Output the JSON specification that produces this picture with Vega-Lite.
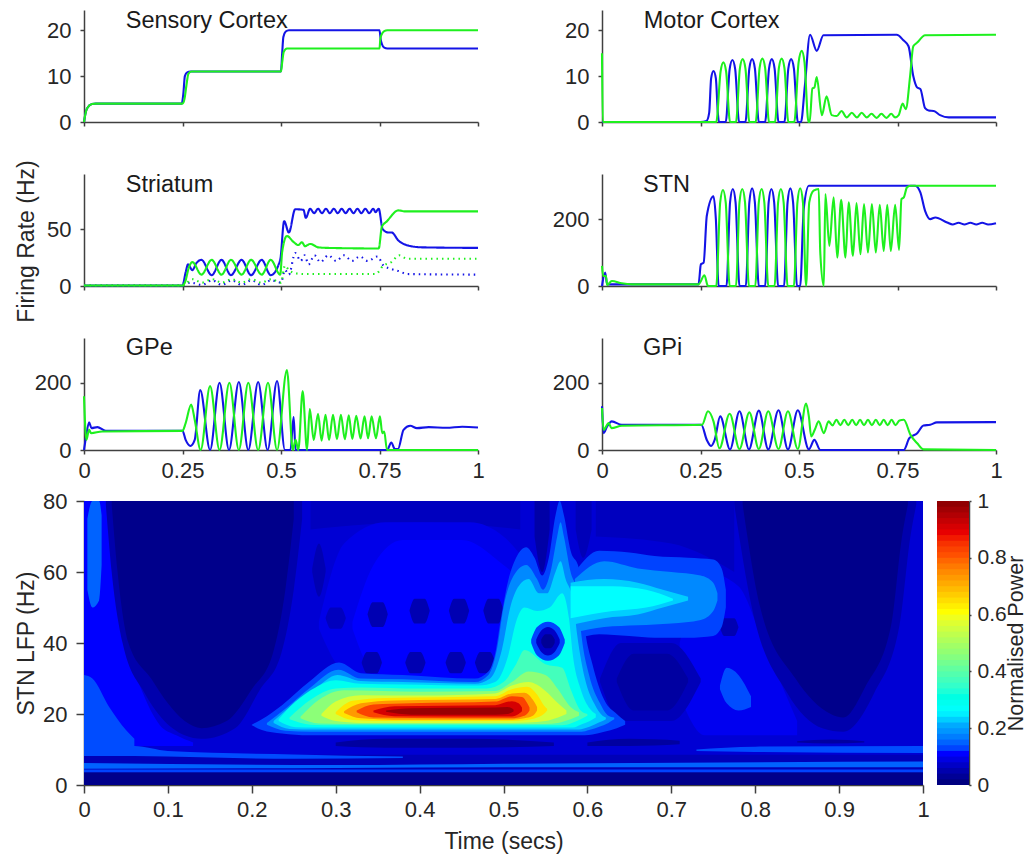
{"$schema":"https://vega.github.io/schema/vega-lite/v6.json","padding":{"left":15,"top":9,"right":5,"bottom":2},"background":"white","spacing":9,"resolve":{"scale":{"color":"independent","strokeDash":"independent"}},
"config":{"view":{"stroke":null},"font":"Liberation Sans","axis":{"grid":false,"domainColor":"#404040","domainWidth":1.5,"tickColor":"#404040","tickWidth":1.5,"tickSize":4,"labelColor":"#262626","titleColor":"#262626","labelFontSize":22,"titleFontSize":23,"labelFont":"Liberation Sans","titleFont":"Liberation Sans","titleFontWeight":"normal","labelPadding":9,"title":null,"labelFlush":false,"labelOverlap":false}},
"datasets":{
"sc":[{"s":"b","t":0,"v":0},{"s":"b","t":0.003,"v":1.5},{"s":"b","t":0.008,"v":3},{"s":"b","t":0.02,"v":3.9},{"s":"b","t":0.03,"v":4},{"s":"b","t":0.248,"v":4},{"s":"b","t":0.252,"v":6},{"s":"b","t":0.256,"v":10},{"s":"b","t":0.262,"v":10.8},{"s":"b","t":0.27,"v":11},{"s":"b","t":0.5,"v":11},{"s":"b","t":0.503,"v":15},{"s":"b","t":0.506,"v":18.5},{"s":"b","t":0.512,"v":19.7},{"s":"b","t":0.52,"v":20},{"s":"b","t":0.75,"v":20},{"s":"b","t":0.753,"v":18},{"s":"b","t":0.756,"v":17},{"s":"b","t":0.762,"v":16.2},{"s":"b","t":0.77,"v":16},{"s":"b","t":1,"v":16},
{"s":"g","t":0,"v":0},{"s":"g","t":0.003,"v":1.5},{"s":"g","t":0.008,"v":3},{"s":"g","t":0.02,"v":3.9},{"s":"g","t":0.03,"v":4},{"s":"g","t":0.25,"v":4},{"s":"g","t":0.255,"v":5},{"s":"g","t":0.26,"v":8},{"s":"g","t":0.265,"v":10.5},{"s":"g","t":0.272,"v":11},{"s":"g","t":0.5,"v":11},{"s":"g","t":0.503,"v":13},{"s":"g","t":0.507,"v":15.3},{"s":"g","t":0.515,"v":16},{"s":"g","t":0.75,"v":16},{"s":"g","t":0.752,"v":18},{"s":"g","t":0.755,"v":19},{"s":"g","t":0.762,"v":19.8},{"s":"g","t":0.77,"v":20},{"s":"g","t":1,"v":20}],
"mc":[{"s":"b","t":0,"v":0},{"s":"b","t":0.25,"v":0},{"s":"b","t":0.265,"v":0.2},{"s":"b","t":0.272,"v":2},{"s":"b","t":0.277,"v":9.5},{"s":"b","t":0.283,"v":11.1},{"s":"b","t":0.289,"v":9.5},{"s":"b","t":0.294,"v":2},{"s":"b","t":0.297,"v":0},{"s":"b","t":0.314,"v":0},{"s":"b","t":0.324,"v":11.5},{"s":"b","t":0.331,"v":13.5},{"s":"b","t":0.338,"v":11.5},{"s":"b","t":0.348,"v":0},{"s":"b","t":0.364,"v":0},{"s":"b","t":0.374,"v":11.7},{"s":"b","t":0.381,"v":13.7},{"s":"b","t":0.388,"v":11.7},{"s":"b","t":0.398,"v":0},{"s":"b","t":0.414,"v":0},{"s":"b","t":0.424,"v":11.7},{"s":"b","t":0.431,"v":13.7},{"s":"b","t":0.438,"v":11.7},{"s":"b","t":0.448,"v":0},{"s":"b","t":0.463,"v":0},{"s":"b","t":0.473,"v":11.7},{"s":"b","t":0.48,"v":13.7},{"s":"b","t":0.487,"v":11.7},{"s":"b","t":0.497,"v":0},{"s":"b","t":0.505,"v":0},{"s":"b","t":0.515,"v":8},{"s":"b","t":0.528,"v":19},{"s":"b","t":0.545,"v":15.5},{"s":"b","t":0.562,"v":18.9},{"s":"b","t":0.748,"v":19},{"s":"b","t":0.765,"v":17.8},{"s":"b","t":0.778,"v":16.5},{"s":"b","t":0.79,"v":10},{"s":"b","t":0.8,"v":7.5},{"s":"b","t":0.808,"v":7.2},{"s":"b","t":0.82,"v":3},{"s":"b","t":0.829,"v":2.5},{"s":"b","t":0.842,"v":2.4},{"s":"b","t":0.858,"v":1.5},{"s":"b","t":0.88,"v":1},{"s":"b","t":1,"v":1},
{"s":"g","t":0,"v":15},{"s":"g","t":0.002,"v":0},{"s":"g","t":0.29,"v":0},{"s":"g","t":0.301,"v":11},{"s":"g","t":0.308,"v":13},{"s":"g","t":0.315,"v":11},{"s":"g","t":0.325,"v":0},{"s":"g","t":0.34,"v":0},{"s":"g","t":0.35,"v":11.7},{"s":"g","t":0.357,"v":13.7},{"s":"g","t":0.364,"v":11.7},{"s":"g","t":0.374,"v":0},{"s":"g","t":0.39,"v":0},{"s":"g","t":0.4,"v":11.8},{"s":"g","t":0.407,"v":13.8},{"s":"g","t":0.414,"v":11.8},{"s":"g","t":0.424,"v":0},{"s":"g","t":0.439,"v":0},{"s":"g","t":0.449,"v":11.8},{"s":"g","t":0.456,"v":13.8},{"s":"g","t":0.463,"v":11.8},{"s":"g","t":0.473,"v":0},{"s":"g","t":0.488,"v":0},{"s":"g","t":0.499,"v":13},{"s":"g","t":0.507,"v":15.5},{"s":"g","t":0.514,"v":13},{"s":"g","t":0.524,"v":0},{"s":"g","t":0.527,"v":0},{"s":"g","t":0.534,"v":7.3},{"s":"g","t":0.539,"v":7.5},{"s":"g","t":0.545,"v":9.8},{"s":"g","t":0.558,"v":1.5},{"s":"g","t":0.57,"v":5.6},{"s":"g","t":0.583,"v":1.5},{"s":"g","t":0.596,"v":1.3},{"s":"g","t":0.608,"v":2.4},{"s":"g","t":0.621,"v":1},{"s":"g","t":0.634,"v":2},{"s":"g","t":0.647,"v":1},{"s":"g","t":0.659,"v":2},{"s":"g","t":0.672,"v":1},{"s":"g","t":0.684,"v":1.8},{"s":"g","t":0.697,"v":0.9},{"s":"g","t":0.709,"v":1.8},{"s":"g","t":0.722,"v":0.9},{"s":"g","t":0.734,"v":1.8},{"s":"g","t":0.744,"v":1},{"s":"g","t":0.753,"v":1.5},{"s":"g","t":0.763,"v":4},{"s":"g","t":0.771,"v":2.8},{"s":"g","t":0.782,"v":10},{"s":"g","t":0.79,"v":16.5},{"s":"g","t":0.8,"v":17.3},{"s":"g","t":0.82,"v":18.9},{"s":"g","t":1,"v":19}],
"st":[{"s":"bd","t":0,"v":0.5},{"s":"bd","t":0.25,"v":0.5},{"s":"bd","t":0.27,"v":3},{"s":"bd","t":0.3,"v":1},{"s":"bd","t":0.325,"v":5},{"s":"bd","t":0.35,"v":1},{"s":"bd","t":0.375,"v":5},{"s":"bd","t":0.4,"v":1},{"s":"bd","t":0.425,"v":5},{"s":"bd","t":0.45,"v":1},{"s":"bd","t":0.475,"v":5},{"s":"bd","t":0.5,"v":3},{"s":"bd","t":0.51,"v":14},{"s":"bd","t":0.52,"v":10},{"s":"bd","t":0.536,"v":29},{"s":"bd","t":0.55,"v":22},{"s":"bd","t":0.56,"v":27},{"s":"bd","t":0.57,"v":19},{"s":"bd","t":0.585,"v":27},{"s":"bd","t":0.6,"v":21},{"s":"bd","t":0.62,"v":27},{"s":"bd","t":0.64,"v":22},{"s":"bd","t":0.66,"v":27},{"s":"bd","t":0.68,"v":22},{"s":"bd","t":0.7,"v":26},{"s":"bd","t":0.72,"v":22},{"s":"bd","t":0.745,"v":26},{"s":"bd","t":0.76,"v":18},{"s":"bd","t":0.78,"v":15},{"s":"bd","t":0.8,"v":13},{"s":"bd","t":0.82,"v":10.5},{"s":"bd","t":1,"v":10},
{"s":"b","t":0,"v":0.5},{"s":"b","t":0.25,"v":0.5},{"s":"b","t":0.258,"v":12},{"s":"b","t":0.264,"v":19},{"s":"b","t":0.275,"v":14},{"s":"b","t":0.285,"v":20},{"s":"b","t":0.298,"v":23},{"s":"b","t":0.324,"v":9.5},{"s":"b","t":0.349,"v":23},{"s":"b","t":0.373,"v":9.5},{"s":"b","t":0.4,"v":23},{"s":"b","t":0.424,"v":9.5},{"s":"b","t":0.451,"v":23},{"s":"b","t":0.474,"v":9.5},{"s":"b","t":0.498,"v":23},{"s":"b","t":0.508,"v":57},{"s":"b","t":0.52,"v":47},{"s":"b","t":0.536,"v":67.5},{"s":"b","t":0.557,"v":67},{"s":"b","t":0.563,"v":60},{"s":"b","t":0.574,"v":68},{"s":"b","t":0.584,"v":64},{"s":"b","t":0.594,"v":68},{"s":"b","t":0.604,"v":64},{"s":"b","t":0.614,"v":68},{"s":"b","t":0.624,"v":64},{"s":"b","t":0.634,"v":68},{"s":"b","t":0.644,"v":64},{"s":"b","t":0.654,"v":68},{"s":"b","t":0.664,"v":64},{"s":"b","t":0.674,"v":68},{"s":"b","t":0.684,"v":64},{"s":"b","t":0.694,"v":68},{"s":"b","t":0.704,"v":64},{"s":"b","t":0.714,"v":68},{"s":"b","t":0.724,"v":64},{"s":"b","t":0.734,"v":68},{"s":"b","t":0.74,"v":65},{"s":"b","t":0.748,"v":68},{"s":"b","t":0.758,"v":50},{"s":"b","t":0.773,"v":47},{"s":"b","t":0.781,"v":47},{"s":"b","t":0.798,"v":40},{"s":"b","t":0.824,"v":35.5},{"s":"b","t":0.858,"v":34},{"s":"b","t":1,"v":33.5},
{"s":"gd","t":0,"v":0.5},{"s":"gd","t":0.25,"v":0.5},{"s":"gd","t":0.275,"v":6},{"s":"gd","t":0.3,"v":3},{"s":"gd","t":0.325,"v":6},{"s":"gd","t":0.35,"v":3},{"s":"gd","t":0.375,"v":6},{"s":"gd","t":0.4,"v":3},{"s":"gd","t":0.425,"v":6},{"s":"gd","t":0.45,"v":3},{"s":"gd","t":0.475,"v":6},{"s":"gd","t":0.5,"v":3},{"s":"gd","t":0.51,"v":18},{"s":"gd","t":0.52,"v":14},{"s":"gd","t":0.54,"v":11},{"s":"gd","t":0.56,"v":10.5},{"s":"gd","t":0.74,"v":10.5},{"s":"gd","t":0.76,"v":18},{"s":"gd","t":0.78,"v":21},{"s":"gd","t":0.8,"v":27},{"s":"gd","t":0.82,"v":24},{"s":"gd","t":1,"v":24},
{"s":"g","t":0,"v":0.5},{"s":"g","t":0.25,"v":0.5},{"s":"g","t":0.258,"v":5},{"s":"g","t":0.265,"v":15},{"s":"g","t":0.275,"v":21},{"s":"g","t":0.298,"v":10},{"s":"g","t":0.324,"v":23},{"s":"g","t":0.349,"v":10},{"s":"g","t":0.373,"v":23},{"s":"g","t":0.4,"v":10},{"s":"g","t":0.424,"v":23},{"s":"g","t":0.451,"v":10},{"s":"g","t":0.474,"v":23},{"s":"g","t":0.498,"v":10},{"s":"g","t":0.503,"v":30},{"s":"g","t":0.515,"v":44},{"s":"g","t":0.531,"v":39},{"s":"g","t":0.544,"v":36},{"s":"g","t":0.553,"v":38.5},{"s":"g","t":0.561,"v":35},{"s":"g","t":0.574,"v":37},{"s":"g","t":0.595,"v":34},{"s":"g","t":0.62,"v":33.5},{"s":"g","t":0.748,"v":33},{"s":"g","t":0.756,"v":52},{"s":"g","t":0.769,"v":57},{"s":"g","t":0.798,"v":66.5},{"s":"g","t":0.815,"v":65.6},{"s":"g","t":1,"v":65.6}],
"stn":[{"s":"b","t":0,"v":0},{"s":"b","t":0.008,"v":40},{"s":"b","t":0.013,"v":5},{"s":"b","t":0.05,"v":5},{"s":"b","t":0.245,"v":5},{"s":"b","t":0.251,"v":65},{"s":"b","t":0.258,"v":70},{"s":"b","t":0.266,"v":210},{"s":"b","t":0.283,"v":268},{"s":"b","t":0.289,"v":200},{"s":"b","t":0.296,"v":0},{"s":"b","t":0.316,"v":0},{"s":"b","t":0.325,"v":250},{"s":"b","t":0.332,"v":290},{"s":"b","t":0.339,"v":250},{"s":"b","t":0.349,"v":0},{"s":"b","t":0.365,"v":0},{"s":"b","t":0.374,"v":250},{"s":"b","t":0.381,"v":292},{"s":"b","t":0.388,"v":250},{"s":"b","t":0.398,"v":0},{"s":"b","t":0.414,"v":0},{"s":"b","t":0.423,"v":250},{"s":"b","t":0.43,"v":290},{"s":"b","t":0.437,"v":250},{"s":"b","t":0.447,"v":0},{"s":"b","t":0.462,"v":0},{"s":"b","t":0.471,"v":250},{"s":"b","t":0.478,"v":292},{"s":"b","t":0.485,"v":250},{"s":"b","t":0.495,"v":0},{"s":"b","t":0.503,"v":0},{"s":"b","t":0.512,"v":230},{"s":"b","t":0.525,"v":300},{"s":"b","t":0.795,"v":300},{"s":"b","t":0.808,"v":280},{"s":"b","t":0.82,"v":225},{"s":"b","t":0.833,"v":200},{"s":"b","t":0.846,"v":205},{"s":"b","t":0.876,"v":190},{"s":"b","t":0.89,"v":184},{"s":"b","t":0.905,"v":189},{"s":"b","t":0.92,"v":184},{"s":"b","t":0.935,"v":189},{"s":"b","t":0.95,"v":184},{"s":"b","t":0.965,"v":189},{"s":"b","t":0.98,"v":184},{"s":"b","t":1,"v":188},
{"s":"g","t":0,"v":60},{"s":"g","t":0.003,"v":30},{"s":"g","t":0.01,"v":30},{"s":"g","t":0.013,"v":3},{"s":"g","t":0.025,"v":15},{"s":"g","t":0.05,"v":8},{"s":"g","t":0.076,"v":5},{"s":"g","t":0.245,"v":5},{"s":"g","t":0.26,"v":32},{"s":"g","t":0.269,"v":0},{"s":"g","t":0.29,"v":0},{"s":"g","t":0.3,"v":250},{"s":"g","t":0.307,"v":287},{"s":"g","t":0.314,"v":250},{"s":"g","t":0.324,"v":0},{"s":"g","t":0.34,"v":0},{"s":"g","t":0.349,"v":250},{"s":"g","t":0.356,"v":290},{"s":"g","t":0.363,"v":250},{"s":"g","t":0.373,"v":0},{"s":"g","t":0.389,"v":0},{"s":"g","t":0.398,"v":250},{"s":"g","t":0.405,"v":290},{"s":"g","t":0.412,"v":250},{"s":"g","t":0.422,"v":0},{"s":"g","t":0.438,"v":0},{"s":"g","t":0.447,"v":250},{"s":"g","t":0.454,"v":290},{"s":"g","t":0.461,"v":250},{"s":"g","t":0.471,"v":0},{"s":"g","t":0.487,"v":0},{"s":"g","t":0.496,"v":250},{"s":"g","t":0.503,"v":292},{"s":"g","t":0.51,"v":250},{"s":"g","t":0.518,"v":0},{"s":"g","t":0.526,"v":250},{"s":"g","t":0.537,"v":285},{"s":"g","t":0.55,"v":290},{"s":"g","t":0.554,"v":100},{"s":"g","t":0.563,"v":0},{"s":"g","t":0.567,"v":275},{"s":"g","t":0.577,"v":120},{"s":"g","t":0.588,"v":265},{"s":"g","t":0.597,"v":85},{"s":"g","t":0.607,"v":258},{"s":"g","t":0.618,"v":85},{"s":"g","t":0.626,"v":250},{"s":"g","t":0.637,"v":90},{"s":"g","t":0.646,"v":248},{"s":"g","t":0.656,"v":95},{"s":"g","t":0.665,"v":245},{"s":"g","t":0.675,"v":100},{"s":"g","t":0.685,"v":245},{"s":"g","t":0.695,"v":100},{"s":"g","t":0.705,"v":243},{"s":"g","t":0.715,"v":105},{"s":"g","t":0.724,"v":243},{"s":"g","t":0.733,"v":105},{"s":"g","t":0.744,"v":243},{"s":"g","t":0.754,"v":108},{"s":"g","t":0.76,"v":260},{"s":"g","t":0.766,"v":265},{"s":"g","t":0.774,"v":295},{"s":"g","t":0.783,"v":300},{"s":"g","t":1,"v":300}],
"gpe":[{"s":"b","t":0,"v":0},{"s":"b","t":0.004,"v":30},{"s":"b","t":0.013,"v":82},{"s":"b","t":0.019,"v":65},{"s":"b","t":0.034,"v":68},{"s":"b","t":0.055,"v":57},{"s":"b","t":0.25,"v":57},{"s":"b","t":0.258,"v":30},{"s":"b","t":0.27,"v":12},{"s":"b","t":0.281,"v":30},{"s":"b","t":0.295,"v":178},{"s":"b","t":0.32,"v":0},{"s":"b","t":0.344,"v":200},{"s":"b","t":0.368,"v":0},{"s":"b","t":0.393,"v":202},{"s":"b","t":0.417,"v":0},{"s":"b","t":0.442,"v":202},{"s":"b","t":0.466,"v":0},{"s":"b","t":0.49,"v":205},{"s":"b","t":0.51,"v":0},{"s":"b","t":0.524,"v":0},{"s":"b","t":0.532,"v":98},{"s":"b","t":0.537,"v":0},{"s":"b","t":0.769,"v":0},{"s":"b","t":0.78,"v":22},{"s":"b","t":0.789,"v":3},{"s":"b","t":0.797,"v":3},{"s":"b","t":0.811,"v":60},{"s":"b","t":0.828,"v":72},{"s":"b","t":0.845,"v":65},{"s":"b","t":0.875,"v":68},{"s":"b","t":0.92,"v":66},{"s":"b","t":0.96,"v":69},{"s":"b","t":1,"v":67},
{"s":"g","t":0,"v":160},{"s":"g","t":0.006,"v":30},{"s":"g","t":0.013,"v":60},{"s":"g","t":0.018,"v":50},{"s":"g","t":0.046,"v":55},{"s":"g","t":0.25,"v":57},{"s":"g","t":0.258,"v":80},{"s":"g","t":0.272,"v":135},{"s":"g","t":0.281,"v":90},{"s":"g","t":0.296,"v":0},{"s":"g","t":0.32,"v":190},{"s":"g","t":0.344,"v":0},{"s":"g","t":0.369,"v":200},{"s":"g","t":0.393,"v":0},{"s":"g","t":0.417,"v":200},{"s":"g","t":0.442,"v":0},{"s":"g","t":0.467,"v":200},{"s":"g","t":0.49,"v":0},{"s":"g","t":0.515,"v":238},{"s":"g","t":0.53,"v":0},{"s":"g","t":0.537,"v":30},{"s":"g","t":0.544,"v":0},{"s":"g","t":0.555,"v":175},{"s":"g","t":0.566,"v":0},{"s":"g","t":0.573,"v":122},{"s":"g","t":0.583,"v":30},{"s":"g","t":0.594,"v":108},{"s":"g","t":0.603,"v":28},{"s":"g","t":0.613,"v":105},{"s":"g","t":0.622,"v":30},{"s":"g","t":0.632,"v":105},{"s":"g","t":0.642,"v":32},{"s":"g","t":0.652,"v":105},{"s":"g","t":0.662,"v":32},{"s":"g","t":0.672,"v":103},{"s":"g","t":0.681,"v":33},{"s":"g","t":0.691,"v":102},{"s":"g","t":0.702,"v":34},{"s":"g","t":0.712,"v":100},{"s":"g","t":0.721,"v":35},{"s":"g","t":0.73,"v":100},{"s":"g","t":0.741,"v":35},{"s":"g","t":0.751,"v":100},{"s":"g","t":0.757,"v":50},{"s":"g","t":0.762,"v":55},{"s":"g","t":0.769,"v":0},{"s":"g","t":1,"v":0}],
"gpi":[{"s":"b","t":0,"v":130},{"s":"b","t":0.004,"v":50},{"s":"b","t":0.013,"v":70},{"s":"b","t":0.025,"v":85},{"s":"b","t":0.05,"v":75},{"s":"b","t":0.252,"v":75},{"s":"b","t":0.266,"v":30},{"s":"b","t":0.277,"v":12},{"s":"b","t":0.286,"v":30},{"s":"b","t":0.3,"v":100},{"s":"b","t":0.325,"v":2},{"s":"b","t":0.349,"v":115},{"s":"b","t":0.373,"v":2},{"s":"b","t":0.398,"v":117},{"s":"b","t":0.422,"v":2},{"s":"b","t":0.448,"v":118},{"s":"b","t":0.472,"v":2},{"s":"b","t":0.497,"v":118},{"s":"b","t":0.525,"v":2},{"s":"b","t":0.539,"v":30},{"s":"b","t":0.554,"v":0},{"s":"b","t":0.766,"v":0},{"s":"b","t":0.78,"v":35},{"s":"b","t":0.8,"v":50},{"s":"b","t":0.816,"v":73},{"s":"b","t":0.833,"v":75},{"s":"b","t":0.85,"v":82},{"s":"b","t":1,"v":83},
{"s":"g","t":0,"v":125},{"s":"g","t":0.004,"v":60},{"s":"g","t":0.017,"v":80},{"s":"g","t":0.024,"v":65},{"s":"g","t":0.05,"v":72},{"s":"g","t":0.254,"v":75},{"s":"g","t":0.269,"v":115},{"s":"g","t":0.283,"v":85},{"s":"g","t":0.298,"v":5},{"s":"g","t":0.324,"v":108},{"s":"g","t":0.349,"v":3},{"s":"g","t":0.374,"v":112},{"s":"g","t":0.398,"v":3},{"s":"g","t":0.422,"v":115},{"s":"g","t":0.448,"v":3},{"s":"g","t":0.472,"v":115},{"s":"g","t":0.497,"v":3},{"s":"g","t":0.518,"v":138},{"s":"g","t":0.525,"v":100},{"s":"g","t":0.531,"v":40},{"s":"g","t":0.54,"v":60},{"s":"g","t":0.55,"v":85},{"s":"g","t":0.563,"v":50},{"s":"g","t":0.575,"v":85},{"s":"g","t":0.585,"v":73},{"s":"g","t":0.595,"v":90},{"s":"g","t":0.605,"v":74},{"s":"g","t":0.615,"v":90},{"s":"g","t":0.625,"v":74},{"s":"g","t":0.635,"v":90},{"s":"g","t":0.645,"v":74},{"s":"g","t":0.655,"v":90},{"s":"g","t":0.665,"v":74},{"s":"g","t":0.675,"v":90},{"s":"g","t":0.685,"v":74},{"s":"g","t":0.695,"v":90},{"s":"g","t":0.705,"v":74},{"s":"g","t":0.715,"v":90},{"s":"g","t":0.725,"v":74},{"s":"g","t":0.735,"v":90},{"s":"g","t":0.745,"v":74},{"s":"g","t":0.755,"v":88},{"s":"g","t":0.766,"v":90},{"s":"g","t":0.783,"v":45},{"s":"g","t":0.8,"v":20},{"s":"g","t":0.816,"v":2},{"s":"g","t":1,"v":0}],
"heat":[
{"b":"base","l":0.07,"t":0,"lo":0,"hi":80},{"b":"base","l":0.07,"t":1,"lo":0,"hi":80},
{"b":"left2","l":0.1,"t":0,"lo":11,"hi":80},{"b":"left2","l":0.1,"t":0.028,"lo":11,"hi":80},{"b":"left2","l":0.1,"t":0.035,"lo":11,"hi":60},{"b":"left2","l":0.1,"t":0.05,"lo":11,"hi":40},{"b":"left2","l":0.1,"t":0.07,"lo":11,"hi":26},{"b":"left2","l":0.1,"t":0.09,"lo":11,"hi":17},{"b":"left2","l":0.1,"t":0.11,"lo":11,"hi":14},{"b":"left2","l":0.1,"t":0.13,"lo":11,"hi":12},
{"b":"wedge","l":0.125,"t":0,"lo":11,"hi":31},{"b":"wedge","l":0.125,"t":0.01,"lo":11,"hi":30},{"b":"wedge","l":0.125,"t":0.03,"lo":11,"hi":22},{"b":"wedge","l":0.125,"t":0.05,"lo":11,"hi":15.5},{"b":"wedge","l":0.125,"t":0.06,"lo":11,"hi":13},
{"b":"col","l":0.14,"t":0.004,"lo":55,"hi":75},{"b":"col","l":0.14,"t":0.01,"lo":50,"hi":80},{"b":"col","l":0.14,"t":0.018,"lo":52,"hi":80},{"b":"col","l":0.14,"t":0.021,"lo":62,"hi":76},
{"b":"poolLa","l":0.04,"t":0.026,"lo":79,"hi":80},{"b":"poolLa","l":0.04,"t":0.033,"lo":60,"hi":80},{"b":"poolLa","l":0.04,"t":0.046,"lo":40,"hi":80},{"b":"poolLa","l":0.04,"t":0.072,"lo":26,"hi":80},{"b":"poolLa","l":0.04,"t":0.092,"lo":19,"hi":80},{"b":"poolLa","l":0.04,"t":0.12,"lo":14,"hi":80},{"b":"poolLa","l":0.04,"t":0.14,"lo":13,"hi":80},{"b":"poolLa","l":0.04,"t":0.18,"lo":16,"hi":80},{"b":"poolLa","l":0.04,"t":0.21,"lo":27,"hi":80},{"b":"poolLa","l":0.04,"t":0.235,"lo":37,"hi":80},{"b":"poolLa","l":0.04,"t":0.25,"lo":55,"hi":80},{"b":"poolLa","l":0.04,"t":0.26,"lo":75,"hi":80},
{"b":"poolL","l":0.01,"t":0.033,"lo":79,"hi":80},{"b":"poolL","l":0.01,"t":0.04,"lo":60,"hi":80},{"b":"poolL","l":0.01,"t":0.053,"lo":40,"hi":80},{"b":"poolL","l":0.01,"t":0.08,"lo":30,"hi":80},{"b":"poolL","l":0.01,"t":0.1,"lo":23,"hi":80},{"b":"poolL","l":0.01,"t":0.12,"lo":18,"hi":80},{"b":"poolL","l":0.01,"t":0.14,"lo":16,"hi":80},{"b":"poolL","l":0.01,"t":0.17,"lo":18,"hi":80},{"b":"poolL","l":0.01,"t":0.2,"lo":27,"hi":80},{"b":"poolL","l":0.01,"t":0.225,"lo":37,"hi":80},{"b":"poolL","l":0.01,"t":0.24,"lo":55,"hi":80},{"b":"poolL","l":0.01,"t":0.25,"lo":75,"hi":80},
{"b":"right","l":0.09,"t":0.71,"lo":25,"hi":40},{"b":"right","l":0.09,"t":0.74,"lo":14,"hi":60},{"b":"right","l":0.09,"t":0.78,"lo":14,"hi":56},{"b":"right","l":0.09,"t":0.81,"lo":14,"hi":40},{"b":"right","l":0.09,"t":0.85,"lo":14,"hi":18},
{"b":"poolRa","l":0.04,"t":0.775,"lo":79,"hi":80},{"b":"poolRa","l":0.04,"t":0.796,"lo":50,"hi":80},{"b":"poolRa","l":0.04,"t":0.838,"lo":26,"hi":80},{"b":"poolRa","l":0.04,"t":0.88,"lo":16,"hi":80},{"b":"poolRa","l":0.04,"t":0.905,"lo":15,"hi":80},{"b":"poolRa","l":0.04,"t":0.942,"lo":26,"hi":80},{"b":"poolRa","l":0.04,"t":0.972,"lo":45,"hi":80},{"b":"poolRa","l":0.04,"t":0.985,"lo":70,"hi":80},{"b":"poolRa","l":0.04,"t":0.992,"lo":79,"hi":80},
{"b":"poolR","l":0.01,"t":0.785,"lo":79,"hi":80},{"b":"poolR","l":0.01,"t":0.806,"lo":50,"hi":80},{"b":"poolR","l":0.01,"t":0.848,"lo":30,"hi":80},{"b":"poolR","l":0.01,"t":0.89,"lo":20,"hi":80},{"b":"poolR","l":0.01,"t":0.905,"lo":19,"hi":80},{"b":"poolR","l":0.01,"t":0.932,"lo":28,"hi":80},{"b":"poolR","l":0.01,"t":0.962,"lo":45,"hi":80},{"b":"poolR","l":0.01,"t":0.975,"lo":70,"hi":80},{"b":"poolR","l":0.01,"t":0.982,"lo":79,"hi":80},
{"b":"topmid","l":0.055,"t":0.27,"lo":72,"hi":80},{"b":"topmid","l":0.055,"t":0.4,"lo":74,"hi":80},{"b":"topmid","l":0.055,"t":0.52,"lo":72,"hi":80},
{"b":"topr","l":0.055,"t":0.61,"lo":70,"hi":80},{"b":"topr","l":0.055,"t":0.7,"lo":68,"hi":80},{"b":"topr","l":0.055,"t":0.775,"lo":60,"hi":80},
{"b":"dome0","l":0.085,"t":0.28,"lo":44,"hi":46},{"b":"dome0","l":0.085,"t":0.31,"lo":32,"hi":68},{"b":"dome0","l":0.085,"t":0.36,"lo":29,"hi":74},{"b":"dome0","l":0.085,"t":0.46,"lo":29,"hi":74},{"b":"dome0","l":0.085,"t":0.5,"lo":29,"hi":70},{"b":"dome0","l":0.085,"t":0.53,"lo":30,"hi":62},
{"b":"dome","l":0.1,"t":0.32,"lo":44,"hi":46},{"b":"dome","l":0.1,"t":0.345,"lo":32,"hi":62},{"b":"dome","l":0.1,"t":0.38,"lo":30,"hi":69},{"b":"dome","l":0.1,"t":0.45,"lo":30,"hi":69},{"b":"dome","l":0.1,"t":0.5,"lo":30,"hi":62},{"b":"dome","l":0.1,"t":0.52,"lo":30,"hi":58},
{"b":"patch","l":0.045,"t":0.272,"lo":60,"hi":61},{"b":"patch","l":0.045,"t":0.28,"lo":53,"hi":68},{"b":"patch","l":0.045,"t":0.288,"lo":60,"hi":61},
{"b":"pool3a","l":0.05,"t":0.615,"lo":29,"hi":30},{"b":"pool3a","l":0.05,"t":0.64,"lo":18,"hi":40},{"b":"pool3a","l":0.05,"t":0.7,"lo":18,"hi":40},{"b":"pool3a","l":0.05,"t":0.735,"lo":29,"hi":30},
{"b":"pool3","l":0.03,"t":0.635,"lo":29,"hi":30},{"b":"pool3","l":0.03,"t":0.655,"lo":21,"hi":37},{"b":"pool3","l":0.03,"t":0.695,"lo":21,"hi":37},{"b":"pool3","l":0.03,"t":0.72,"lo":29,"hi":30},
{"b":"ell","l":0.125,"t":0.758,"lo":27,"hi":28},{"b":"ell","l":0.125,"t":0.766,"lo":23,"hi":33},{"b":"ell","l":0.125,"t":0.78,"lo":21,"hi":31},{"b":"ell","l":0.125,"t":0.795,"lo":22,"hi":25},
{"b":"d1","l":0.045,"t":0.331,"lo":34.4,"hi":34.6},{"b":"d1","l":0.045,"t":0.337,"lo":31.5,"hi":37.5},{"b":"d1","l":0.045,"t":0.349,"lo":31.5,"hi":37.5},{"b":"d1","l":0.045,"t":0.355,"lo":34.4,"hi":34.6},
{"b":"d2","l":0.045,"t":0.383,"lo":34.4,"hi":34.6},{"b":"d2","l":0.045,"t":0.389,"lo":31.5,"hi":37.5},{"b":"d2","l":0.045,"t":0.401,"lo":31.5,"hi":37.5},{"b":"d2","l":0.045,"t":0.407,"lo":34.4,"hi":34.6},
{"b":"d3","l":0.045,"t":0.431,"lo":34.4,"hi":34.6},{"b":"d3","l":0.045,"t":0.437,"lo":31.5,"hi":37.5},{"b":"d3","l":0.045,"t":0.449,"lo":31.5,"hi":37.5},{"b":"d3","l":0.045,"t":0.455,"lo":34.4,"hi":34.6},
{"b":"d4","l":0.045,"t":0.466,"lo":34.4,"hi":34.6},{"b":"d4","l":0.045,"t":0.472,"lo":31.5,"hi":37.5},{"b":"d4","l":0.045,"t":0.484,"lo":31.5,"hi":37.5},{"b":"d4","l":0.045,"t":0.49,"lo":34.4,"hi":34.6},
{"b":"d5","l":0.055,"t":0.288,"lo":46.9,"hi":47.1},{"b":"d5","l":0.055,"t":0.294,"lo":44,"hi":50},{"b":"d5","l":0.055,"t":0.306,"lo":44,"hi":50},{"b":"d5","l":0.055,"t":0.312,"lo":46.9,"hi":47.1},
{"b":"d6","l":0.045,"t":0.338,"lo":48,"hi":48.2},{"b":"d6","l":0.045,"t":0.344,"lo":44.5,"hi":51.5},{"b":"d6","l":0.045,"t":0.356,"lo":44.5,"hi":51.5},{"b":"d6","l":0.045,"t":0.362,"lo":48,"hi":48.2},
{"b":"d7","l":0.045,"t":0.388,"lo":49,"hi":49.2},{"b":"d7","l":0.045,"t":0.394,"lo":45.5,"hi":52.5},{"b":"d7","l":0.045,"t":0.406,"lo":45.5,"hi":52.5},{"b":"d7","l":0.045,"t":0.412,"lo":49,"hi":49.2},
{"b":"d8","l":0.045,"t":0.435,"lo":49,"hi":49.2},{"b":"d8","l":0.045,"t":0.441,"lo":45.5,"hi":52.5},{"b":"d8","l":0.045,"t":0.453,"lo":45.5,"hi":52.5},{"b":"d8","l":0.045,"t":0.459,"lo":49,"hi":49.2},
{"b":"d9","l":0.045,"t":0.476,"lo":49,"hi":49.2},{"b":"d9","l":0.045,"t":0.482,"lo":45.5,"hi":52.5},{"b":"d9","l":0.045,"t":0.494,"lo":45.5,"hi":52.5},{"b":"d9","l":0.045,"t":0.5,"lo":49,"hi":49.2},
{"b":"d10","l":0.045,"t":0.758,"lo":44.4,"hi":44.6},{"b":"d10","l":0.045,"t":0.763,"lo":42,"hi":47},{"b":"d10","l":0.045,"t":0.775,"lo":42,"hi":47},{"b":"d10","l":0.045,"t":0.78,"lo":44.4,"hi":44.6},
{"b":"n1","l":0.035,"t":0.537,"lo":70,"hi":80},{"b":"n1","l":0.035,"t":0.546,"lo":60,"hi":80},{"b":"n1","l":0.035,"t":0.555,"lo":72,"hi":80},
{"b":"n2","l":0.05,"t":0.586,"lo":72,"hi":80},{"b":"n2","l":0.05,"t":0.595,"lo":64,"hi":80},{"b":"n2","l":0.05,"t":0.605,"lo":72,"hi":80},
{"b":"m12","l":0.12,"t":0.2,"lo":16.8,"hi":17},{"b":"m12","l":0.12,"t":0.212,"lo":15.5,"hi":18.5},{"b":"m12","l":0.12,"t":0.236,"lo":14.5,"hi":22.5},{"b":"m12","l":0.12,"t":0.268,"lo":14,"hi":29},{"b":"m12","l":0.12,"t":0.304,"lo":14,"hi":34.5},{"b":"m12","l":0.12,"t":0.33,"lo":14,"hi":31.5},{"b":"m12","l":0.12,"t":0.38,"lo":14,"hi":31},{"b":"m12","l":0.12,"t":0.466,"lo":14,"hi":30},{"b":"m12","l":0.12,"t":0.482,"lo":14,"hi":32},{"b":"m12","l":0.12,"t":0.49,"lo":14,"hi":37},{"b":"m12","l":0.12,"t":0.497,"lo":14,"hi":47},{"b":"m12","l":0.12,"t":0.505,"lo":14,"hi":57},{"b":"m12","l":0.12,"t":0.515,"lo":14,"hi":64},{"b":"m12","l":0.12,"t":0.527,"lo":14,"hi":67},{"b":"m12","l":0.12,"t":0.537,"lo":14,"hi":64},{"b":"m12","l":0.12,"t":0.546,"lo":14,"hi":59},{"b":"m12","l":0.12,"t":0.554,"lo":14,"hi":64},{"b":"m12","l":0.12,"t":0.562,"lo":14,"hi":76},{"b":"m12","l":0.12,"t":0.567,"lo":14,"hi":80},{"b":"m12","l":0.12,"t":0.572,"lo":14,"hi":76},{"b":"m12","l":0.12,"t":0.58,"lo":14,"hi":66},{"b":"m12","l":0.12,"t":0.59,"lo":14,"hi":61},{"b":"m12","l":0.12,"t":0.597,"lo":14,"hi":44},{"b":"m12","l":0.12,"t":0.606,"lo":14.2,"hi":34},{"b":"m12","l":0.12,"t":0.62,"lo":15,"hi":24},{"b":"m12","l":0.12,"t":0.635,"lo":16,"hi":20},{"b":"m12","l":0.12,"t":0.645,"lo":17,"hi":18},
{"b":"s12","l":0.12,"t":0.585,"lo":41,"hi":60},{"b":"s12","l":0.12,"t":0.614,"lo":42.5,"hi":66},{"b":"s12","l":0.12,"t":0.65,"lo":42,"hi":65.5},{"b":"s12","l":0.12,"t":0.68,"lo":41.5,"hi":64.5},{"b":"s12","l":0.12,"t":0.72,"lo":41.5,"hi":64},{"b":"s12","l":0.12,"t":0.75,"lo":42,"hi":63.5},{"b":"s12","l":0.12,"t":0.76,"lo":44.5,"hi":61},{"b":"s12","l":0.12,"t":0.765,"lo":50,"hi":55},
{"b":"m17","l":0.17,"t":0.218,"lo":17,"hi":17.5},{"b":"m17","l":0.17,"t":0.24,"lo":15.3,"hi":21.5},{"b":"m17","l":0.17,"t":0.27,"lo":15,"hi":27.5},{"b":"m17","l":0.17,"t":0.303,"lo":15,"hi":32.5},{"b":"m17","l":0.17,"t":0.33,"lo":15,"hi":30},{"b":"m17","l":0.17,"t":0.38,"lo":15,"hi":29.8},{"b":"m17","l":0.17,"t":0.466,"lo":15,"hi":29},{"b":"m17","l":0.17,"t":0.482,"lo":15,"hi":31},{"b":"m17","l":0.17,"t":0.492,"lo":15,"hi":38},{"b":"m17","l":0.17,"t":0.5,"lo":15,"hi":50},{"b":"m17","l":0.17,"t":0.51,"lo":15,"hi":58},{"b":"m17","l":0.17,"t":0.527,"lo":15,"hi":62},{"b":"m17","l":0.17,"t":0.54,"lo":15,"hi":58},{"b":"m17","l":0.17,"t":0.547,"lo":15,"hi":55},{"b":"m17","l":0.17,"t":0.556,"lo":15,"hi":60},{"b":"m17","l":0.17,"t":0.564,"lo":15,"hi":70},{"b":"m17","l":0.17,"t":0.568,"lo":15,"hi":74},{"b":"m17","l":0.17,"t":0.572,"lo":15,"hi":70},{"b":"m17","l":0.17,"t":0.58,"lo":15,"hi":60},{"b":"m17","l":0.17,"t":0.588,"lo":15,"hi":54},{"b":"m17","l":0.17,"t":0.593,"lo":15,"hi":42},{"b":"m17","l":0.17,"t":0.602,"lo":15.5,"hi":31},{"b":"m17","l":0.17,"t":0.615,"lo":16.5,"hi":23},{"b":"m17","l":0.17,"t":0.625,"lo":17.5,"hi":19.5},{"b":"m17","l":0.17,"t":0.632,"lo":18.5,"hi":19},
{"b":"s17","l":0.17,"t":0.585,"lo":43,"hi":58},{"b":"s17","l":0.17,"t":0.62,"lo":44.5,"hi":63},{"b":"s17","l":0.17,"t":0.66,"lo":45,"hi":61},{"b":"s17","l":0.17,"t":0.7,"lo":45.5,"hi":60},{"b":"s17","l":0.17,"t":0.735,"lo":46.5,"hi":59},{"b":"s17","l":0.17,"t":0.75,"lo":49,"hi":57},{"b":"s17","l":0.17,"t":0.755,"lo":52,"hi":54},
{"b":"m22","l":0.22,"t":0.226,"lo":17.5,"hi":18},{"b":"m22","l":0.22,"t":0.245,"lo":15.8,"hi":22},{"b":"m22","l":0.22,"t":0.275,"lo":15.6,"hi":27},{"b":"m22","l":0.22,"t":0.302,"lo":15.6,"hi":31},{"b":"m22","l":0.22,"t":0.33,"lo":15.6,"hi":29.3},{"b":"m22","l":0.22,"t":0.38,"lo":15.6,"hi":29},{"b":"m22","l":0.22,"t":0.466,"lo":15.6,"hi":28.5},{"b":"m22","l":0.22,"t":0.484,"lo":15.6,"hi":30},{"b":"m22","l":0.22,"t":0.498,"lo":15.6,"hi":38},{"b":"m22","l":0.22,"t":0.508,"lo":15.6,"hi":50},{"b":"m22","l":0.22,"t":0.518,"lo":15.6,"hi":56},{"b":"m22","l":0.22,"t":0.53,"lo":15.6,"hi":58},{"b":"m22","l":0.22,"t":0.542,"lo":15.6,"hi":54},{"b":"m22","l":0.22,"t":0.552,"lo":15.6,"hi":54},{"b":"m22","l":0.22,"t":0.562,"lo":15.6,"hi":60},{"b":"m22","l":0.22,"t":0.568,"lo":15.6,"hi":63},{"b":"m22","l":0.22,"t":0.574,"lo":15.6,"hi":58},{"b":"m22","l":0.22,"t":0.583,"lo":15.6,"hi":52},{"b":"m22","l":0.22,"t":0.588,"lo":15.6,"hi":42},{"b":"m22","l":0.22,"t":0.597,"lo":16,"hi":30},{"b":"m22","l":0.22,"t":0.608,"lo":17,"hi":23},{"b":"m22","l":0.22,"t":0.618,"lo":18,"hi":19.5},{"b":"m22","l":0.22,"t":0.622,"lo":18.5,"hi":19},
{"b":"s22","l":0.22,"t":0.58,"lo":45,"hi":57},{"b":"s22","l":0.22,"t":0.62,"lo":47,"hi":58},{"b":"s22","l":0.22,"t":0.66,"lo":48,"hi":57},{"b":"s22","l":0.22,"t":0.69,"lo":50,"hi":55},{"b":"s22","l":0.22,"t":0.72,"lo":52,"hi":53},
{"b":"s25","l":0.25,"t":0.58,"lo":47,"hi":56},{"b":"s25","l":0.25,"t":0.63,"lo":49,"hi":56},{"b":"s25","l":0.25,"t":0.67,"lo":50,"hi":55},{"b":"s25","l":0.25,"t":0.702,"lo":52,"hi":52.5},
{"b":"m28","l":0.28,"t":0.232,"lo":18,"hi":18.5},{"b":"m28","l":0.28,"t":0.252,"lo":16.3,"hi":23.5},{"b":"m28","l":0.28,"t":0.276,"lo":16.2,"hi":27.5},{"b":"m28","l":0.28,"t":0.3,"lo":16.2,"hi":29.5},{"b":"m28","l":0.28,"t":0.33,"lo":16.2,"hi":28.5},{"b":"m28","l":0.28,"t":0.38,"lo":16.2,"hi":28.3},{"b":"m28","l":0.28,"t":0.47,"lo":16.2,"hi":28},{"b":"m28","l":0.28,"t":0.49,"lo":16.2,"hi":29},{"b":"m28","l":0.28,"t":0.505,"lo":16.2,"hi":36},{"b":"m28","l":0.28,"t":0.515,"lo":16.2,"hi":46},{"b":"m28","l":0.28,"t":0.525,"lo":16.2,"hi":50},{"b":"m28","l":0.28,"t":0.54,"lo":16.2,"hi":49},{"b":"m28","l":0.28,"t":0.555,"lo":16.2,"hi":50},{"b":"m28","l":0.28,"t":0.57,"lo":16.2,"hi":54},{"b":"m28","l":0.28,"t":0.578,"lo":16.2,"hi":47},{"b":"m28","l":0.28,"t":0.583,"lo":16.2,"hi":36},{"b":"m28","l":0.28,"t":0.592,"lo":17,"hi":27},{"b":"m28","l":0.28,"t":0.603,"lo":18,"hi":21.5},{"b":"m28","l":0.28,"t":0.61,"lo":19,"hi":20},
{"b":"m36","l":0.36,"t":0.245,"lo":18.5,"hi":19},{"b":"m36","l":0.36,"t":0.27,"lo":17,"hi":24},{"b":"m36","l":0.36,"t":0.3,"lo":16.8,"hi":27.2},{"b":"m36","l":0.36,"t":0.33,"lo":16.8,"hi":27.5},{"b":"m36","l":0.36,"t":0.4,"lo":16.8,"hi":27.2},{"b":"m36","l":0.36,"t":0.48,"lo":16.8,"hi":27.2},{"b":"m36","l":0.36,"t":0.5,"lo":16.8,"hi":29},{"b":"m36","l":0.36,"t":0.515,"lo":16.8,"hi":34},{"b":"m36","l":0.36,"t":0.525,"lo":16.8,"hi":38},{"b":"m36","l":0.36,"t":0.55,"lo":16.8,"hi":34},{"b":"m36","l":0.36,"t":0.57,"lo":16.8,"hi":33},{"b":"m36","l":0.36,"t":0.58,"lo":17.3,"hi":27},{"b":"m36","l":0.36,"t":0.592,"lo":18.5,"hi":21},{"b":"m36","l":0.36,"t":0.6,"lo":19.5,"hi":20},
{"b":"m45","l":0.45,"t":0.258,"lo":18.8,"hi":19.2},{"b":"m45","l":0.45,"t":0.28,"lo":17.3,"hi":24},{"b":"m45","l":0.45,"t":0.31,"lo":17.2,"hi":26.7},{"b":"m45","l":0.45,"t":0.4,"lo":17.2,"hi":26.3},{"b":"m45","l":0.45,"t":0.49,"lo":17.2,"hi":26.5},{"b":"m45","l":0.45,"t":0.51,"lo":17.2,"hi":29},{"b":"m45","l":0.45,"t":0.53,"lo":17.2,"hi":32},{"b":"m45","l":0.45,"t":0.55,"lo":17.2,"hi":31},{"b":"m45","l":0.45,"t":0.565,"lo":17.5,"hi":27},{"b":"m45","l":0.45,"t":0.58,"lo":18.5,"hi":22},{"b":"m45","l":0.45,"t":0.59,"lo":19.5,"hi":20.5},
{"b":"m55","l":0.55,"t":0.283,"lo":19.5,"hi":20},{"b":"m55","l":0.55,"t":0.3,"lo":18,"hi":23.5},{"b":"m55","l":0.55,"t":0.33,"lo":17.5,"hi":25.3},{"b":"m55","l":0.55,"t":0.4,"lo":17.5,"hi":25.2},{"b":"m55","l":0.55,"t":0.49,"lo":17.5,"hi":25.8},{"b":"m55","l":0.55,"t":0.51,"lo":17.5,"hi":28},{"b":"m55","l":0.55,"t":0.53,"lo":17.6,"hi":29},{"b":"m55","l":0.55,"t":0.55,"lo":18,"hi":26.5},{"b":"m55","l":0.55,"t":0.565,"lo":19,"hi":23},{"b":"m55","l":0.55,"t":0.575,"lo":20,"hi":21},
{"b":"m63","l":0.63,"t":0.3,"lo":20,"hi":20.5},{"b":"m63","l":0.63,"t":0.32,"lo":18.3,"hi":23.7},{"b":"m63","l":0.63,"t":0.36,"lo":18,"hi":24.5},{"b":"m63","l":0.63,"t":0.49,"lo":18,"hi":25},{"b":"m63","l":0.63,"t":0.51,"lo":18,"hi":27},{"b":"m63","l":0.63,"t":0.528,"lo":18.3,"hi":27.7},{"b":"m63","l":0.63,"t":0.54,"lo":19,"hi":25.5},{"b":"m63","l":0.63,"t":0.548,"lo":20,"hi":22.5},{"b":"m63","l":0.63,"t":0.552,"lo":21,"hi":21.5},
{"b":"m72","l":0.72,"t":0.31,"lo":20.3,"hi":20.8},{"b":"m72","l":0.72,"t":0.33,"lo":18.8,"hi":23},{"b":"m72","l":0.72,"t":0.37,"lo":18.4,"hi":23.8},{"b":"m72","l":0.72,"t":0.49,"lo":18.4,"hi":24.2},{"b":"m72","l":0.72,"t":0.51,"lo":18.4,"hi":25.8},{"b":"m72","l":0.72,"t":0.525,"lo":18.8,"hi":26},{"b":"m72","l":0.72,"t":0.535,"lo":19.5,"hi":24},{"b":"m72","l":0.72,"t":0.54,"lo":21,"hi":22},
{"b":"m82","l":0.82,"t":0.325,"lo":20.5,"hi":21},{"b":"m82","l":0.82,"t":0.345,"lo":19,"hi":22.7},{"b":"m82","l":0.82,"t":0.39,"lo":18.9,"hi":23},{"b":"m82","l":0.82,"t":0.49,"lo":18.8,"hi":23.5},{"b":"m82","l":0.82,"t":0.51,"lo":18.8,"hi":25},{"b":"m82","l":0.82,"t":0.522,"lo":19.3,"hi":24.8},{"b":"m82","l":0.82,"t":0.528,"lo":20,"hi":23.2},{"b":"m82","l":0.82,"t":0.531,"lo":21,"hi":21.8},
{"b":"m90","l":0.9,"t":0.345,"lo":20.5,"hi":21},{"b":"m90","l":0.9,"t":0.37,"lo":19.4,"hi":22.2},{"b":"m90","l":0.9,"t":0.49,"lo":19.3,"hi":22.5},{"b":"m90","l":0.9,"t":0.51,"lo":19.3,"hi":23.6},{"b":"m90","l":0.9,"t":0.518,"lo":20,"hi":23},{"b":"m90","l":0.9,"t":0.522,"lo":20.8,"hi":21.8},
{"b":"m97","l":0.97,"t":0.36,"lo":20.6,"hi":21},{"b":"m97","l":0.97,"t":0.39,"lo":19.8,"hi":21.6},{"b":"m97","l":0.97,"t":0.49,"lo":19.8,"hi":21.8},{"b":"m97","l":0.97,"t":0.505,"lo":20,"hi":22},{"b":"m97","l":0.97,"t":0.512,"lo":20.7,"hi":21.3},
{"b":"h12","l":0.12,"t":0.533,"lo":40,"hi":41},{"b":"h12","l":0.12,"t":0.54,"lo":36.5,"hi":44.5},{"b":"h12","l":0.12,"t":0.553,"lo":35,"hi":46},{"b":"h12","l":0.12,"t":0.566,"lo":36.5,"hi":44.5},{"b":"h12","l":0.12,"t":0.573,"lo":40,"hi":41},
{"b":"h06","l":0.06,"t":0.539,"lo":40,"hi":41},{"b":"h06","l":0.06,"t":0.545,"lo":37.5,"hi":43.5},{"b":"h06","l":0.06,"t":0.553,"lo":36.5,"hi":44.5},{"b":"h06","l":0.06,"t":0.561,"lo":37.5,"hi":43.5},{"b":"h06","l":0.06,"t":0.567,"lo":40,"hi":41},
{"b":"h02","l":0.02,"t":0.545,"lo":40,"hi":41},{"b":"h02","l":0.02,"t":0.55,"lo":38.5,"hi":42.5},{"b":"h02","l":0.02,"t":0.556,"lo":38.5,"hi":42.5},{"b":"h02","l":0.02,"t":0.561,"lo":40,"hi":41},
{"b":"u1","l":0.03,"t":0.3,"lo":11,"hi":12},{"b":"u1","l":0.03,"t":0.36,"lo":10.5,"hi":13},{"b":"u1","l":0.03,"t":0.46,"lo":10.5,"hi":13},{"b":"u1","l":0.03,"t":0.56,"lo":11,"hi":12},
{"b":"u2","l":0.03,"t":0.6,"lo":11,"hi":12},{"b":"u2","l":0.03,"t":0.65,"lo":11,"hi":13},{"b":"u2","l":0.03,"t":0.71,"lo":11.5,"hi":12.5},
{"b":"u3","l":0.03,"t":0.85,"lo":12,"hi":12.3},{"b":"u3","l":0.03,"t":0.89,"lo":11.7,"hi":12.8},{"b":"u3","l":0.03,"t":0.93,"lo":12,"hi":12.3},
{"b":"sd","l":0.05,"t":0,"lo":0,"hi":8.5},{"b":"sd","l":0.05,"t":1,"lo":0,"hi":8.5},
{"b":"s0","l":0.01,"t":0,"lo":0,"hi":3.6},{"b":"s0","l":0.01,"t":1,"lo":0,"hi":3.6},
{"b":"s1","l":0.12,"t":0,"lo":3.6,"hi":4.4},{"b":"s1","l":0.12,"t":1,"lo":3.6,"hi":4.4},
{"b":"s2","l":0.14,"t":0,"lo":4.6,"hi":6.2},{"b":"s2","l":0.14,"t":0.3,"lo":4.8,"hi":5.6},{"b":"s2","l":0.14,"t":0.5,"lo":5,"hi":6},{"b":"s2","l":0.14,"t":1,"lo":5,"hi":6.6},
{"b":"s4","l":0.125,"t":0,"lo":8.2,"hi":11},{"b":"s4","l":0.125,"t":0.06,"lo":8.2,"hi":11},{"b":"s4","l":0.125,"t":0.1,"lo":8,"hi":9.6},{"b":"s4","l":0.125,"t":0.25,"lo":7.4,"hi":8.6},{"b":"s4","l":0.125,"t":0.38,"lo":7.6,"hi":8},
{"b":"s5","l":0.125,"t":0.73,"lo":9.6,"hi":10},{"b":"s5","l":0.125,"t":0.8,"lo":9.3,"hi":10.8},{"b":"s5","l":0.125,"t":1,"lo":9,"hi":11}
],
"bar":[{"l":0,"w":0.025},{"l":0.02,"w":0.045},{"l":0.04,"w":0.065},{"l":0.06,"w":0.085},{"l":0.08,"w":0.105},{"l":0.1,"w":0.125},{"l":0.12,"w":0.145},{"l":0.14,"w":0.165},{"l":0.16,"w":0.185},{"l":0.18,"w":0.205},{"l":0.2,"w":0.225},{"l":0.22,"w":0.245},{"l":0.24,"w":0.265},{"l":0.26,"w":0.285},{"l":0.28,"w":0.305},{"l":0.3,"w":0.325},{"l":0.32,"w":0.345},{"l":0.34,"w":0.365},{"l":0.36,"w":0.385},{"l":0.38,"w":0.405},{"l":0.4,"w":0.425},{"l":0.42,"w":0.445},{"l":0.44,"w":0.465},{"l":0.46,"w":0.485},{"l":0.48,"w":0.505},{"l":0.5,"w":0.525},{"l":0.52,"w":0.545},{"l":0.54,"w":0.565},{"l":0.56,"w":0.585},{"l":0.58,"w":0.605},{"l":0.6,"w":0.625},{"l":0.62,"w":0.645},{"l":0.64,"w":0.665},{"l":0.66,"w":0.685},{"l":0.68,"w":0.705},{"l":0.7,"w":0.725},{"l":0.72,"w":0.745},{"l":0.74,"w":0.765},{"l":0.76,"w":0.785},{"l":0.78,"w":0.805},{"l":0.8,"w":0.825},{"l":0.82,"w":0.845},{"l":0.84,"w":0.865},{"l":0.86,"w":0.885},{"l":0.88,"w":0.905},{"l":0.9,"w":0.925},{"l":0.92,"w":0.945},{"l":0.94,"w":0.965},{"l":0.96,"w":0.985},{"l":0.98,"w":1}]
},
"vconcat":[
{"columns":2,"bounds":"flush","spacing":{"row":52,"column":124},"resolve":{"scale":{"color":"independent","strokeDash":"independent"}},"concat":[
{"width":394,"height":112,"layer":[{"data":{"name":"sc"},"mark":{"type":"line","interpolate":"monotone","strokeWidth":2.1},"encoding":{"x":{"field":"t","type":"quantitative","scale":{"domain":[0,1]},"axis":{"values":[0,0.25,0.5,0.75,1],"labels":false}},"y":{"field":"v","type":"quantitative","scale":{"domain":[0,24.4],"nice":false},"axis":{"values":[0,10,20]}},"color":{"field":"s","type":"nominal","scale":{"domain":["b","g"],"range":["#1414e6","#1ef01e"]},"legend":null}}},{"data":{"values":[{"t":0.106,"v":22,"n":"Sensory Cortex"}]},"mark":{"type":"text","align":"left","baseline":"middle","fontSize":23.5,"font":"Liberation Sans","color":"#1a1a1a"},"encoding":{"x":{"field":"t","type":"quantitative"},"y":{"field":"v","type":"quantitative"},"text":{"field":"n"}}}]},
{"width":394,"height":112,"layer":[{"data":{"name":"mc"},"mark":{"type":"line","interpolate":"monotone","strokeWidth":2.1},"encoding":{"x":{"field":"t","type":"quantitative","scale":{"domain":[0,1]},"axis":{"values":[0,0.25,0.5,0.75,1],"labels":false}},"y":{"field":"v","type":"quantitative","scale":{"domain":[0,24.4],"nice":false},"axis":{"values":[0,10,20]}},"color":{"field":"s","type":"nominal","scale":{"domain":["b","g"],"range":["#1414e6","#1ef01e"]},"legend":null}}},{"data":{"values":[{"t":0.106,"v":22,"n":"Motor Cortex"}]},"mark":{"type":"text","align":"left","baseline":"middle","fontSize":23.5,"font":"Liberation Sans","color":"#1a1a1a"},"encoding":{"x":{"field":"t","type":"quantitative"},"y":{"field":"v","type":"quantitative"},"text":{"field":"n"}}}]},
{"width":394,"height":112,"layer":[{"data":{"name":"st"},"mark":{"type":"line","interpolate":"monotone","strokeWidth":2.1},"encoding":{"x":{"field":"t","type":"quantitative","scale":{"domain":[0,1]},"axis":{"values":[0,0.25,0.5,0.75,1],"labels":false}},"y":{"field":"v","type":"quantitative","scale":{"domain":[0,98.5],"nice":false},"axis":{"values":[0,50],"title":"Firing Rate (Hz)","titleX":-58,"titleY":67,"titleBaseline":"middle","titleAlign":"center","titleAnchor":null}},"color":{"field":"s","type":"nominal","scale":{"domain":["b","g","bd","gd"],"range":["#1414e6","#1ef01e","#1414e6","#1ef01e"]},"legend":null},"strokeDash":{"field":"s","type":"nominal","scale":{"domain":["b","g","bd","gd"],"range":[[1,0],[1,0],[1.5,4],[1.5,4]]},"legend":null}}},{"data":{"values":[{"t":0.106,"v":89,"n":"Striatum"}]},"mark":{"type":"text","align":"left","baseline":"middle","fontSize":23.5,"font":"Liberation Sans","color":"#1a1a1a"},"encoding":{"x":{"field":"t","type":"quantitative"},"y":{"field":"v","type":"quantitative"},"text":{"field":"n"}}}]},
{"width":394,"height":112,"layer":[{"data":{"name":"stn"},"mark":{"type":"line","interpolate":"monotone","strokeWidth":2.1},"encoding":{"x":{"field":"t","type":"quantitative","scale":{"domain":[0,1]},"axis":{"values":[0,0.25,0.5,0.75,1],"labels":false}},"y":{"field":"v","type":"quantitative","scale":{"domain":[0,335],"nice":false},"axis":{"values":[0,200]}},"color":{"field":"s","type":"nominal","scale":{"domain":["b","g"],"range":["#1414e6","#1ef01e"]},"legend":null}}},{"data":{"values":[{"t":0.104,"v":301,"n":"STN"}]},"mark":{"type":"text","align":"left","baseline":"middle","fontSize":23.5,"font":"Liberation Sans","color":"#1a1a1a"},"encoding":{"x":{"field":"t","type":"quantitative"},"y":{"field":"v","type":"quantitative"},"text":{"field":"n"}}}]},
{"width":394,"height":112,"layer":[{"data":{"name":"gpe"},"mark":{"type":"line","interpolate":"monotone","strokeWidth":2.1},"encoding":{"x":{"field":"t","type":"quantitative","scale":{"domain":[0,1]},"axis":{"values":[0,0.25,0.5,0.75,1],"format":".2~f","labelPadding":6}},"y":{"field":"v","type":"quantitative","scale":{"domain":[0,333],"nice":false},"axis":{"values":[0,200]}},"color":{"field":"s","type":"nominal","scale":{"domain":["b","g"],"range":["#1414e6","#1ef01e"]},"legend":null}}},{"data":{"values":[{"t":0.106,"v":303,"n":"GPe"}]},"mark":{"type":"text","align":"left","baseline":"middle","fontSize":23.5,"font":"Liberation Sans","color":"#1a1a1a"},"encoding":{"x":{"field":"t","type":"quantitative"},"y":{"field":"v","type":"quantitative"},"text":{"field":"n"}}}]},
{"width":394,"height":112,"layer":[{"data":{"name":"gpi"},"mark":{"type":"line","interpolate":"monotone","strokeWidth":2.1},"encoding":{"x":{"field":"t","type":"quantitative","scale":{"domain":[0,1]},"axis":{"values":[0,0.25,0.5,0.75,1],"format":".2~f","labelPadding":6}},"y":{"field":"v","type":"quantitative","scale":{"domain":[0,333],"nice":false},"axis":{"values":[0,200]}},"color":{"field":"s","type":"nominal","scale":{"domain":["b","g"],"range":["#1414e6","#1ef01e"]},"legend":null}}},{"data":{"values":[{"t":0.104,"v":303,"n":"GPi"}]},"mark":{"type":"text","align":"left","baseline":"middle","fontSize":23.5,"font":"Liberation Sans","color":"#1a1a1a"},"encoding":{"x":{"field":"t","type":"quantitative"},"y":{"field":"v","type":"quantitative"},"text":{"field":"n"}}}]}
]},
{"hconcat":[
{"width":839,"height":284,"data":{"name":"heat"},"mark":{"type":"area","interpolate":"monotone"},"encoding":{"x":{"field":"t","type":"quantitative","scale":{"domain":[0,1]},"axis":{"values":[0,0.1,0.2,0.3,0.4,0.5,0.6,0.7,0.8,0.9,1],"format":"~g","tickSize":8,"labelPadding":6,"title":"Time (secs)","titlePadding":10}},"y":{"field":"lo","type":"quantitative","scale":{"domain":[0,80],"nice":false},"axis":{"values":[0,20,40,60,80],"tickSize":8,"title":"STN LFP (Hz)","titleX":-58,"titleY":142,"titleBaseline":"middle","titleAlign":"center","titleAnchor":null}},"y2":{"field":"hi"},"detail":{"field":"b"},"color":{"field":"l","type":"quantitative","scale":{"domain":[0,0.05,0.1,0.2,0.25,0.35,0.45,0.6,0.7,0.8,0.87,1],"range":["#000080","#0000b8","#0000ff","#00aaff","#00ffff","#3cffc3","#8cff78","#ffff00","#ffaa00","#ff5000","#f00000","#800000"]},"legend":null}}},
{"width":32,"height":284,"data":{"name":"bar"},"mark":{"type":"rect"},"encoding":{"y":{"field":"l","type":"quantitative","scale":{"domain":[0,1]},"axis":{"orient":"right","values":[0,0.2,0.4,0.6,0.8,1],"format":"~g","labelFontSize":21,"labelPadding":6,"tickSize":2,"title":"Normalised Power","titleFontSize":21.5,"titleAngle":270,"titlePadding":21}},"y2":{"field":"w"},"color":{"field":"l","type":"quantitative","scale":{"domain":[0,0.05,0.1,0.2,0.25,0.35,0.45,0.6,0.7,0.8,0.87,1],"range":["#000080","#0000b8","#0000ff","#00aaff","#00ffff","#3cffc3","#8cff78","#ffff00","#ffaa00","#ff5000","#f00000","#800000"]},"legend":null}}}
],"spacing":14,"bounds":"flush"}
]}
